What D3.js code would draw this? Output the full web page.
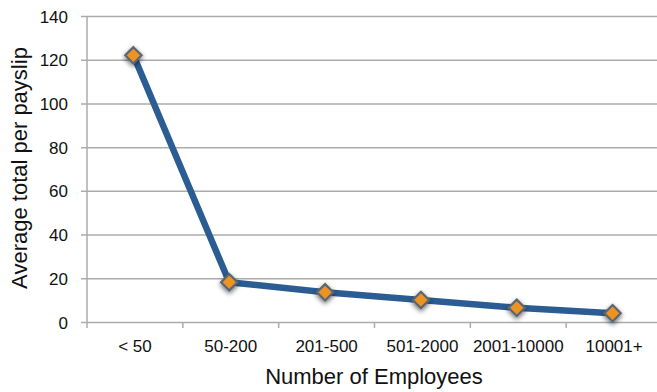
<!DOCTYPE html>
<html>
<head>
<meta charset="utf-8">
<script src="https://cdn.jsdelivr.net/npm/d3@7/dist/d3.min.js"></script>
<style>
  html, body { margin: 0; padding: 0; background: #fff; }
  svg { display: block; }
  text { font-family: Helvetica, "Liberation Sans", Arial, sans-serif; fill: #111; }
</style>
</head>
<body>
<svg id="chart" width="657" height="392"></svg>
<script>
// Employee-size bands and the average total per payslip for each
const categories = ["< 50", "50-200", "201-500", "501-2000", "2001-10000", "10001+"];
const values = [122, 18.2, 13.6, 10.1, 6.5, 4.0];
const yTicks = [0, 20, 40, 60, 80, 100, 120, 140];

const svg = d3.select("#chart");
const plot = { left: 87, right: 662, top: 16, bottom: 322 };

const x = d3.scaleBand().domain(categories).range([plot.left, plot.right]).padding(0);
const y = d3.scaleLinear().domain([0, 140]).range([plot.bottom, plot.top]);

const gridColor = "#ababab";

// soft shadow for the markers
const defs = svg.append("defs");
const f = defs.append("filter").attr("id", "mshadow")
  .attr("x", "-100%").attr("y", "-100%").attr("width", "300%").attr("height", "300%");
f.append("feGaussianBlur").attr("in", "SourceAlpha").attr("stdDeviation", 2.5).attr("result", "b");
f.append("feOffset").attr("in", "b").attr("dx", 0).attr("dy", 1.5).attr("result", "o");
f.append("feComponentTransfer").attr("in", "o").attr("result", "s")
  .append("feFuncA").attr("type", "linear").attr("slope", 0.6);
f.append("feGaussianBlur").attr("in", "SourceGraphic").attr("stdDeviation", 0.6).attr("result", "g");
const m = f.append("feMerge");
m.append("feMergeNode").attr("in", "s");
m.append("feMergeNode").attr("in", "g");

// horizontal gridlines with short ticks to the left of the axis
const yAxis = d3.axisLeft(y).tickValues(yTicks).tickSizeOuter(0);
const gy = svg.append("g").attr("transform", `translate(${plot.left},0)`).call(yAxis);
gy.select(".domain").remove();
gy.selectAll(".tick line").attr("x1", -6).attr("x2", plot.right - plot.left)
  .attr("stroke", gridColor).attr("stroke-width", 1.5);
gy.selectAll(".tick text").attr("font-size", 17).attr("fill", "#111")
  .attr("x", -19).attr("dy", "0.36em");

// vertical axis line
svg.append("line")
  .attr("x1", plot.left).attr("x2", plot.left)
  .attr("y1", plot.top).attr("y2", plot.bottom + 6)
  .attr("stroke", gridColor).attr("stroke-width", 1.5);

// bottom axis: ticks at band boundaries, labels centred in each band
const xAxis = d3.axisBottom(x).tickSize(0).tickPadding(18);
const gx = svg.append("g").attr("transform", `translate(0,${plot.bottom})`).call(xAxis);
gx.select(".domain").remove();
gx.selectAll(".tick text").attr("font-size", 17).attr("fill", "#111");
svg.append("g").selectAll("line")
  .data(categories)
  .join("line")
  .attr("x1", d => x(d) + x.bandwidth()).attr("x2", d => x(d) + x.bandwidth())
  .attr("y1", plot.bottom).attr("y2", plot.bottom + 6)
  .attr("stroke", gridColor).attr("stroke-width", 1.5);

const px = (i) => x(categories[i]) + x.bandwidth() / 2 - 1.5;

// data line
const line = d3.line().x((d, i) => px(i)).y(d => y(d));
svg.append("path")
  .datum(values)
  .attr("d", line)
  .attr("fill", "none")
  .attr("stroke", "#2b5d92")
  .attr("stroke-width", 6.5)
  .attr("stroke-linejoin", "round")
  .attr("stroke-linecap", "round");

// diamond markers
const diamond = d3.symbol().type(d3.symbolDiamond2).size(170);
svg.append("g").attr("filter", "url(#mshadow)")
  .selectAll("path")
  .data(values)
  .join("path")
  .attr("d", diamond)
  .attr("transform", (d, i) => `translate(${px(i)},${y(d)})`)
  .attr("fill", "#ee9322")
  .attr("stroke", "#5a6673")
  .attr("stroke-width", 2.2);

// axis titles
svg.append("text")
  .attr("x", 374).attr("y", 384)
  .attr("text-anchor", "middle")
  .attr("font-size", 22)
  .text("Number of Employees");

svg.append("text")
  .attr("transform", `translate(27,168) rotate(-90)`)
  .attr("text-anchor", "middle")
  .attr("font-size", 22)
  .text("Average total per payslip");
</script>
</body>
</html>
